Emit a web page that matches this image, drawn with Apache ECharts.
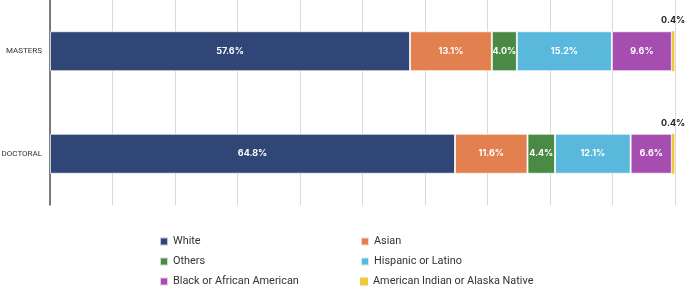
<!DOCTYPE html>
<html><head><meta charset="utf-8">
<script src="https://cdn.jsdelivr.net/npm/echarts@6/dist/echarts.min.js"></script>
<style>html,body{margin:0;padding:0;background:#fff}#c{width:685px;height:287px}</style>
</head><body><div id="c"></div>
<script>
const categories = ['MASTERS', 'DOCTORAL'];
const seriesNames = ['White', 'Asian', 'Others', 'Hispanic or Latino', 'Black or African American', 'American Indian or Alaska Native'];
const white = [57.6, 64.8];
const asian = [13.1, 11.6];
const others = [4.0, 4.4];
const hispanic = [15.2, 12.1];
const black = [9.6, 6.6];
const aian = [0.4, 0.4];
const colors = ['#2F4676', '#E3804F', '#4A8A45', '#5AB8DC', '#A64EAF', '#F0C93A'];
const values = [white, asian, others, hispanic, black, aian];

const chart = echarts.init(document.getElementById('c'));
const series = seriesNames.map((n, i) => ({
  name: n, type: 'bar', stack: 'total',
  data: values[i],
  barCategoryGap: '61%',
  itemStyle: { color: colors[i], borderColor: 'rgba(255,255,255,0.7)', borderWidth: i < 5 ? 1 : 0 },
  label: i < 5 ? {
    show: true, position: 'inside', color: '#fff', fontWeight: 'bold', fontSize: 9,
    fontFamily: 'Inter', formatter: p => p.value.toFixed(1) + '%'
  } : {
    show: true, position: 'top', distance: 6, color: '#222', fontWeight: 'bold', fontSize: 9,
    fontFamily: 'Inter', formatter: p => p.value.toFixed(1) + '%'
  }
}));
const legendPos = [[159, 236], [360, 236], [159, 256], [360, 256], [159, 276], [360, 276]];
const legends = seriesNames.map((n, i) => ({
  data: [n], left: legendPos[i][0], top: legendPos[i][1], padding: 0,
  itemWidth: 8, itemHeight: 8, icon: 'rect', itemGap: 3,
  textStyle: { color: '#333', fontSize: 10.9, fontFamily: 'Roboto' }
}));
chart.setOption({
  animation: false,
  grid: { left: 50, right: 10, top: 0, bottom: 82, containLabel: false, outerBoundsMode: 'none' },
  xAxis: {
    type: 'value', min: 0, max: 100, interval: 10,
    axisLabel: { show: false }, axisLine: { show: false }, axisTick: { show: false },
    splitLine: { lineStyle: { color: '#d9d9d9', width: 1 } }
  },
  yAxis: {
    type: 'category', data: categories, inverse: true,
    axisLine: { lineStyle: { color: '#555', width: 1.5 } },
    axisTick: { show: false },
    axisLabel: { color: '#333', fontSize: 8, fontFamily: 'Roboto', margin: 8 }
  },
  legend: legends,
  series
});
</script></body></html>
